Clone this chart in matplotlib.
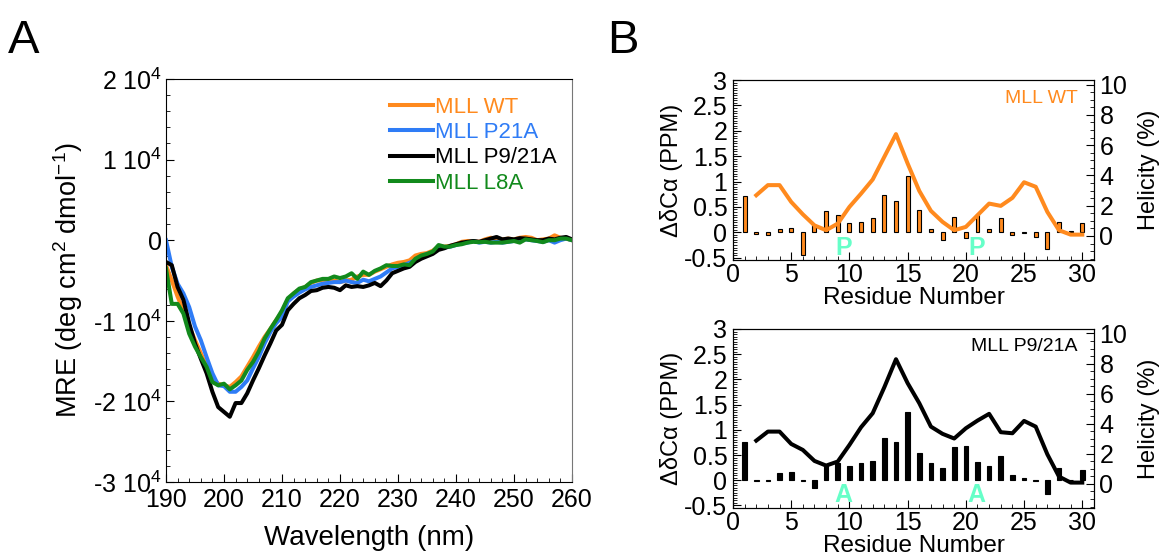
import matplotlib
matplotlib.use("Agg")
import matplotlib.pyplot as plt
from matplotlib.ticker import MultipleLocator

plt.rcParams["font.family"] = ["Liberation Sans", "DejaVu Sans"]
plt.rcParams["mathtext.fontset"] = "custom"
plt.rcParams["mathtext.rm"] = "Liberation Sans"
plt.rcParams["mathtext.default"] = "regular"

# ---- panel A: CD spectra (MRE, units of 1e3) ----
wavelength = list(range(190, 261))

mre_wt = [-3.1, -5.0, -7.0, -8.7, -10.7, -12.4, -14.0, -15.7, -17.1, -17.8,
          -18.0, -18.2, -17.6, -16.9, -15.7, -14.5, -13.2, -12.0, -11.0, -9.9,
          -8.9, -7.4, -6.6, -6.1, -5.8, -5.3, -5.0, -5.0, -4.9, -5.0,
          -5.2, -5.0, -4.9, -4.5, -4.3, -4.3, -3.9, -3.6, -3.3, -3.0,
          -2.8, -2.7, -2.5, -1.9, -1.7, -1.6, -1.3, -0.8, -0.8, -0.7,
          -0.5, -0.2, -0.1, -0.1, -0.2, 0.1, 0.3, 0.2, 0.1, 0.2,
          0.1, 0.3, 0.4, 0.3, 0.0, 0.1, 0.2, 0.6, 0.3, 0.2, 0.0]
mre_p21a = [0.0, -3.3, -5.4, -6.6, -8.3, -10.7, -12.4, -14.5, -16.5, -18.0,
            -18.1, -18.8, -18.8, -18.2, -17.4, -15.9, -14.5, -12.8, -11.4, -10.3,
            -9.5, -7.6, -7.0, -6.5, -6.1, -5.8, -5.6, -5.4, -5.3, -5.2,
            -5.2, -5.0, -5.2, -5.3, -4.9, -5.1, -4.8, -4.5, -4.0, -3.5,
            -3.3, -3.1, -2.8, -2.5, -2.0, -1.7, -1.6, -1.0, -0.9, -0.8,
            -0.6, -0.4, -0.3, -0.1, -0.3, -0.2, -0.3, -0.2, -0.3, -0.2,
            -0.1, 0.0, 0.1, 0.0, -0.1, -0.2, 0.0, -0.3, 0.0, 0.2, 0.0]
mre_p921a = [-2.7, -3.1, -5.8, -7.4, -10.3, -12.8, -14.7, -16.5, -18.8, -20.7,
             -21.3, -21.9, -20.2, -20.2, -19.0, -17.4, -15.9, -14.3, -12.8, -11.2,
             -10.5, -8.7, -7.9, -7.2, -6.8, -6.3, -6.2, -5.9, -5.8, -5.9,
             -6.2, -5.6, -5.8, -5.7, -5.8, -5.6, -5.3, -5.7, -5.0, -4.1,
             -3.8, -3.5, -3.3, -2.7, -2.3, -2.0, -1.7, -1.2, -1.0, -0.7,
             -0.5, -0.3, -0.2, -0.1, -0.2, 0.0, 0.2, 0.4, 0.1, 0.2,
             0.1, 0.25, 0.2, 0.1, 0.0, 0.0, 0.2, 0.1, 0.3, 0.4, 0.1]
mre_l8a = [-3.5, -7.9, -7.9, -9.1, -11.6, -13.2, -14.5, -15.7, -17.6, -18.0,
           -17.8, -18.5, -18.0, -17.4, -16.1, -15.1, -13.8, -12.2, -11.0, -9.9,
           -8.7, -7.2, -6.6, -6.0, -5.8, -5.2, -5.0, -4.8, -4.8, -4.5,
           -4.7, -4.5, -4.1, -4.8, -3.9, -4.3, -3.8, -3.5, -3.1, -3.2,
           -3.2, -3.0, -3.1, -2.3, -1.9, -1.7, -1.4, -0.6, -0.8, -0.8,
           -0.6, -0.5, -0.3, -0.2, -0.25, -0.2, -0.3, -0.3, -0.3, -0.2,
           -0.1, -0.3, 0.1, 0.0, -0.1, -0.25, 0.0, 0.0, 0.2, 0.2, 0.0]

cd_labels = ["MLL WT", "MLL P21A", "MLL P9/21A", "MLL L8A"]
cd_colors = ["#ff8a1e", "#2f7cf6", "#000000", "#128a1c"]
mre_ticks = [-30000, -20000, -10000, 0, 10000, 20000]
mre_ticklabels = ["-3 10$^4$", "-2 10$^4$", "-1 10$^4$", "0", "1 10$^4$", "2 10$^4$"]

# ---- panel B: chemical shift deviation and helicity ----
residues = list(range(1, 31))
dca_wt = [0.72, -0.03, -0.05, 0.065, 0.085, -0.45, 0.15, 0.41, 0.34, 0.19,
          0.20, 0.28, 0.73, 0.62, 1.11, 0.44, 0.07, -0.15, 0.30, -0.12,
          0.37, 0.065, 0.29, -0.05, -0.01, -0.10, -0.32, 0.21, 0.02, 0.18]
dca_p921a = [0.75, -0.01, -0.01, 0.14, 0.16, -0.01, -0.15, 0.31, 0.34, 0.29,
             0.34, 0.38, 0.84, 0.75, 1.36, 0.55, 0.34, 0.24, 0.65, 0.68,
             0.37, 0.29, 0.49, 0.10, 0.05, -0.02, -0.28, 0.24, 0.0, 0.21]
helix_res = list(range(2, 31))
helix_wt = [2.69, 3.36, 3.36, 2.25, 1.43, 0.70, 0.38, 0.82, 1.92, 2.80,
            3.73, 5.23, 6.73, 4.79, 2.98, 1.66, 0.93, 0.38, 0.60, 1.37,
            2.14, 1.99, 2.52, 3.55, 3.25, 1.59, 0.38, 0.09, 0.09]
helix_p921a = [2.88, 3.48, 3.48, 2.66, 2.26, 1.53, 1.22, 1.49, 2.59, 3.77,
               4.70, 6.43, 8.29, 6.70, 5.37, 3.81, 3.33, 3.02, 3.70, 4.21,
               4.66, 3.44, 3.37, 4.19, 3.81, 1.97, 0.49, 0.09, 0.09]
mut_pos = [9.5, 20.9]

fig = plt.figure(figsize=(11.64, 5.56), dpi=100)

# panel A
ax = fig.add_axes([0.1426, 0.133, 0.3488, 0.725])
series = [mre_wt, mre_p21a, mre_p921a, mre_l8a]
for vals, lab, col in zip(series, cd_labels, cd_colors):
    ax.plot(wavelength, [v * 1000 for v in vals], color=col, linewidth=2.9, label=lab)
ax.set_xlim(190, 260)
ax.set_ylim(-30000, 20000)
ax.set_yticks(mre_ticks, mre_ticklabels)
ax.xaxis.set_major_locator(MultipleLocator(10))
ax.xaxis.set_minor_locator(MultipleLocator(2))
ax.yaxis.set_minor_locator(MultipleLocator(2000))
ax.tick_params(which="both", direction="in", labelsize=18, top=False, right=False)
ax.tick_params(which="major", length=6)
ax.tick_params(axis="x", which="major", pad=4)
ax.tick_params(axis="y", which="major", pad=3)
ax.tick_params(which="minor", length=3)
ax.spines["right"].set_color("#777777")
ax.set_xlabel("Wavelength (nm)", fontsize=20, labelpad=10)
ax.set_ylabel("MRE (deg cm$^2$ dmol$^{-1}$)", fontsize=19.5, labelpad=6)
leg = ax.legend(loc="upper right", bbox_to_anchor=(1.0, 0.995), frameon=False,
                fontsize=16, handlelength=1.9, handletextpad=0.1,
                labelspacing=0.2, borderaxespad=0.3)
for txt, col in zip(leg.get_texts(), cd_colors):
    txt.set_color(col)
fig.text(0.007, 0.905, "A", fontsize=34)


def residue_panel(rect, dca, helix, color, edge, width, name, name_color, letter):
    axl = fig.add_axes(rect)
    axl.bar(residues, dca, width=width, color=color, edgecolor=edge, linewidth=0.8)
    axl.set_xlim(0, 31)
    axl.set_ylim(-0.55, 3)
    axl.xaxis.set_major_locator(MultipleLocator(5))
    axl.xaxis.set_minor_locator(MultipleLocator(1))
    axl.yaxis.set_minor_locator(MultipleLocator(0.05))
    axl.set_yticks([-0.5, 0, 0.5, 1, 1.5, 2, 2.5, 3],
                   ["-0.5", "0", "0.5", "1", "1.5", "2", "2.5", "3"])
    axl.tick_params(which="both", direction="in", labelsize=18, top=False, right=False)
    axl.tick_params(which="major", length=6)
    axl.tick_params(axis="x", which="major", pad=2)
    axl.tick_params(axis="y", which="major", pad=4)
    axl.tick_params(which="minor", length=3)
    axl.set_xlabel("Residue Number", fontsize=17.5, labelpad=0)
    axl.set_ylabel("ΔδCα (PPM)", fontsize=17, labelpad=1)
    for x in mut_pos:
        axl.text(x, -0.3, letter, color="#66ffc8", fontsize=18, fontweight="bold",
                 ha="center", va="center")
    axl.text(0.955, 0.9, name, color=name_color, fontsize=14, ha="right",
             va="center", transform=axl.transAxes)
    axr = axl.twinx()
    axr.plot(helix_res, helix, color=color, linewidth=2.9)
    axr.set_ylim(-1.6, 10.3)
    axr.set_yticks([0, 2, 4, 6, 8, 10])
    axr.yaxis.set_minor_locator(MultipleLocator(0.5))
    axr.tick_params(which="both", direction="in", labelsize=18)
    axr.tick_params(which="major", length=6, pad=4)
    axr.tick_params(which="minor", length=3)
    axr.set_ylabel("Helicity (%)", fontsize=17, labelpad=8)
    return axl, axr


residue_panel([0.6297, 0.532, 0.3101, 0.324], dca_wt, helix_wt, "#ff8a1e", "black",
              0.34, "MLL WT", "#ff8a1e", "P")
residue_panel([0.6297, 0.0863, 0.3101, 0.322], dca_p921a, helix_p921a, "black", "black",
              0.4, "MLL P9/21A", "black", "A")
fig.text(0.522, 0.905, "B", fontsize=34)

fig.savefig("out.png", dpi=100)
